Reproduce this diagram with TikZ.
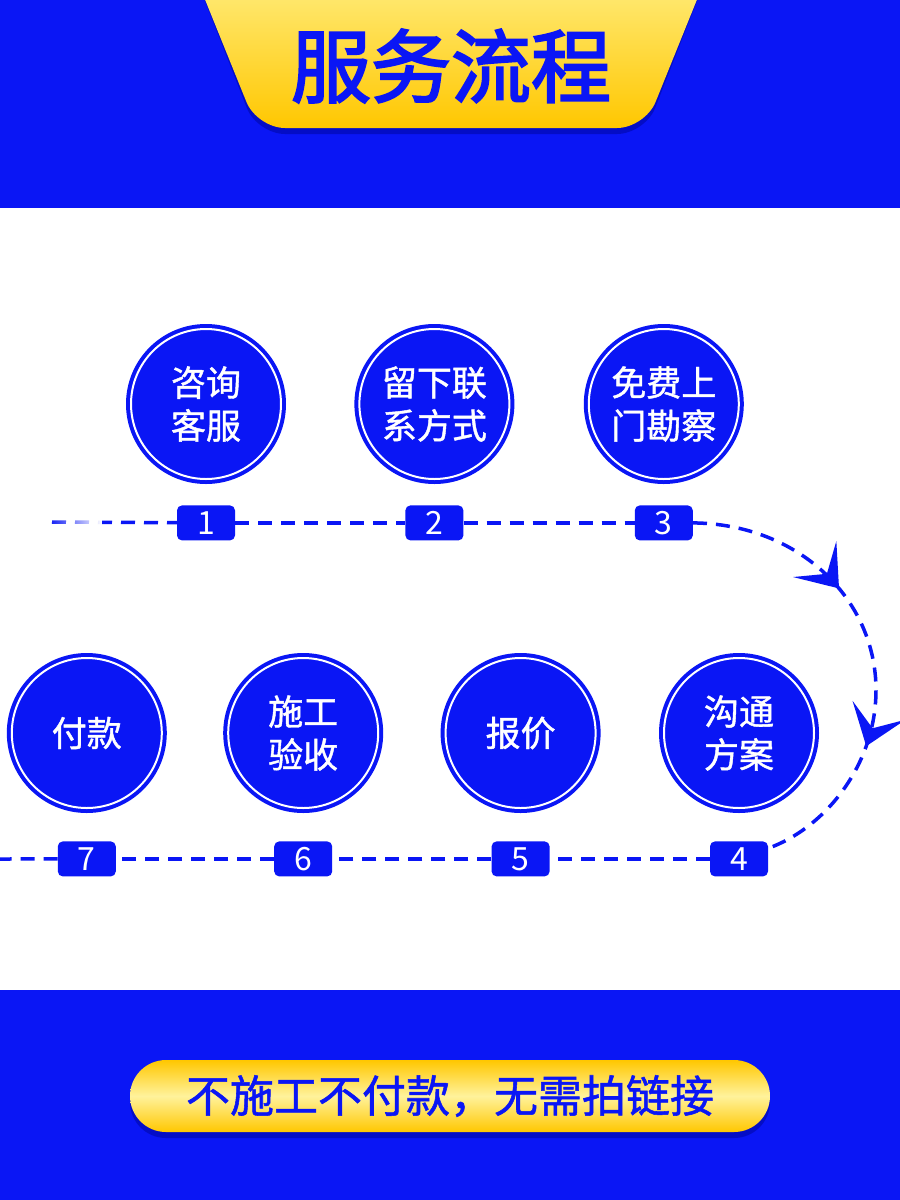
\documentclass[tikz,border=0pt]{standalone}
\usepackage{fontspec}
\newfontfamily\cjk{Noto Sans CJK SC}
\newfontfamily\cjkmid{Noto Sans CJK SC}[FakeBold=1.2]
\newfontfamily\cjkhead{Noto Sans CJK SC}[FakeBold=2.6]
\usetikzlibrary{arrows.meta, positioning, decorations.markings, fadings}
\definecolor{stepblue}{HTML}{0A16F5}
\definecolor{shadowblue}{HTML}{0008A8}
\definecolor{goldlight}{HTML}{FFF08A}
\definecolor{golddeep}{HTML}{FFC700}

\begin{document}
\begin{tikzpicture}[
    x=1pt, y=-1pt,
    every node/.style={font=\cjk, text=white},
    stepcircle/.style={
        circle, fill=stepblue,
        minimum size=160pt, inner sep=0pt,
        align=center,
        font=\cjkmid\fontsize{35}{43}\selectfont,
        path picture={\draw[white, line width=2pt] (path picture bounding box.center) circle (75pt);}
    },
    numtag/.style={
        fill=stepblue, rounded corners=5pt,
        minimum width=58pt, minimum height=35pt, inner sep=0pt,
        font=\cjk\fontsize{32}{32}\selectfont
    },
    flow/.style={
        draw=stepblue, line width=3.5pt,
        dash pattern=on 14pt off 9pt
    },
    dart/.tip={Stealth[length=38pt, width=56pt, inset=19pt]}
]
\useasboundingbox (0,0) rectangle (900,1200);

% Bands
\fill[stepblue] (0,0) rectangle (900,208);
\fill[white] (0,208) rectangle (900,990);
\fill[stepblue] (0,990) rectangle (900,1200);

% Title banner
\fill[shadowblue, opacity=0.6, rounded corners=28pt]
    (189,-40) -- (713,-40) -- (645,134) -- (257,134) -- cycle;
\shade[top color=goldlight, bottom color=golddeep, rounded corners=28pt]
    (189,-40) -- (713,-40) -- (645,128) -- (257,128) -- cycle;
\node[text=stepblue, font=\cjkhead\fontsize{80}{80}\selectfont] (title) at (451,66) {服务流程};

% Steps, first row
\node[stepcircle] (c1) at (206,404) {咨询\\客服};
\node[stepcircle, right=68pt of c1] (c2) {留下联\\系方式};
\node[stepcircle, right=69pt of c2] (c3) {免费上\\门勘察};

% Steps, second row
\node[stepcircle] (c4) at (739,733) {沟通\\方案};
\node[stepcircle, left=58pt of c4] (c5) {报价};
\node[stepcircle, left=57pt of c5] (c6) {施工\\验收};
\node[stepcircle, left=56pt of c6] (c7) {付款};

% Number tags
\node[numtag, below=21pt of c1] (t1) {1};
\node[numtag, below=21pt of c2] (t2) {2};
\node[numtag, below=21pt of c3] (t3) {3};
\node[numtag, below=28pt of c4] (t4) {4};
\node[numtag, below=28pt of c5] (t5) {5};
\node[numtag, below=28pt of c6] (t6) {6};
\node[numtag, below=28pt of c7] (t7) {7};

% Dashed route
\coordinate (fadestart) at (52,522);
\coordinate (leftend) at (0,859);
\draw[flow] (fadestart) -- (t1);
\fill[white, path fading=west] (48,514) rectangle (102,530);
\draw[flow] (t1) -- (t2);
\draw[flow] (t2) -- (t3);
\draw[flow,
    postaction={decorate},
    decoration={markings,
        mark=at position 0.345 with {\arrow{dart}},
        mark=at position 0.695 with {\arrow{dart}}}]
    (t3.east) .. controls (800,524) and (876,600) .. (876,690)
    .. controls (876,765) and (825,828) .. (t4.20);
\draw[flow] (t4) -- (t5);
\draw[flow] (t5) -- (t6);
\draw[flow] (t6) -- (t7);
\draw[flow] (t7) -- (leftend);

% Slogan
\fill[shadowblue, opacity=0.6, rounded corners=36pt] (130,1066) rectangle (770,1138);
\node[rounded corners=36pt, minimum width=640pt, minimum height=72pt,
    top color=golddeep, bottom color=golddeep, middle color=goldlight!85!white,
    text=stepblue, font=\cjkmid\fontsize{44}{44}\selectfont] (slogan) at (450,1096)
    {不施工不付款，无需拍链接};

\end{tikzpicture}
\end{document}
